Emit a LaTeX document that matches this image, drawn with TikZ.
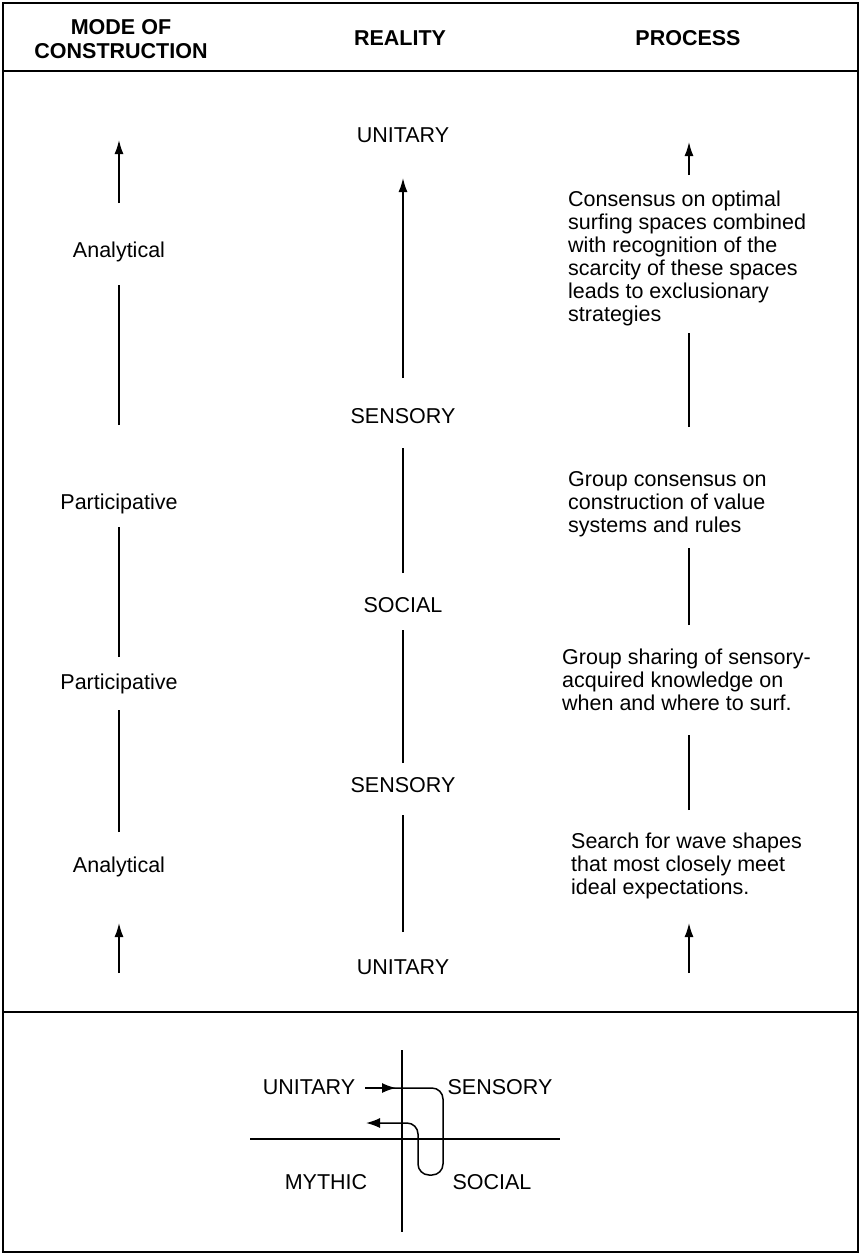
\documentclass[tikz,border=0pt]{standalone}
\usepackage{fontspec}
\setmainfont{Liberation Sans}
\usetikzlibrary{arrows.meta,positioning,calc}

\begin{document}
\begin{tikzpicture}[x=1pt,y=-1pt,
    lbl/.style={font=\fontsize{21.5}{23}\selectfont, inner sep=0pt, text height=15.4pt, text depth=0pt},
    hdr/.style={font=\fontsize{21.5}{24}\selectfont\bfseries, align=center, inner sep=0pt},
    blk/.style={font=\fontsize{21.5}{23}\selectfont, align=left, anchor=west, inner sep=0pt},
    seg/.style={line width=1.5pt},
    up/.style={seg, -{Latex[length=14pt,width=9pt]}}]

    \useasboundingbox (0,0) rectangle (861,1254);
    \draw[line width=1.5pt] (3,3) rectangle (858,1252);
    \draw[line width=1.5pt] (3,71) -- (858,71);
    \draw[line width=2pt] (3,1012) -- (858,1012);

    % headers
    \node[hdr] (hmode) at (121,39) {MODE OF\\CONSTRUCTION};
    \node[hdr] (hreal) at (400,38) {REALITY};
    \node[hdr] (hproc) at (688,38) {PROCESS};

    % mode of construction
    \node[lbl] (anal1) at (119,250) {Analytical};
    \node[lbl] (part1) at (119,502) {Participative};
    \node[lbl] (part2) at (119,682) {Participative};
    \node[lbl] (anal2) at (119,865) {Analytical};

    % reality
    \node[lbl] (unit1) at (403,135) {UNITARY};
    \node[lbl] (sens1) at (403,416) {SENSORY};
    \node[lbl] (soc)   at (403,605) {SOCIAL};
    \node[lbl] (sens2) at (403,785) {SENSORY};
    \node[lbl] (unit2) at (403,967) {UNITARY};

    % process
    \node[blk] (cons) at (568,258) {Consensus on optimal\\surfing spaces combined\\with recognition of the\\scarcity of these spaces\\leads to exclusionary\\strategies};
    \node[blk] (grpc) at (568,504) {Group consensus on\\construction of value\\systems and rules};
    \node[blk] (grps) at (562,680) {Group sharing of sensory-\\acquired knowledge on\\when and where to surf.};
    \node[blk] (srch) at (571,866) {Search for wave shapes\\that most closely meet\\ideal expectations.};

    % segment ends
    \foreach \n/\x/\y in {m0/119/973, m1/119/923, m2/119/832, m3/119/710, m4/119/657, m5/119/527,
                          m6/119/425, m7/119/285, m8/119/203, m9/119/140,
                          r0/403/932, r1/403/815, r2/403/763, r3/403/630, r4/403/573, r5/403/448,
                          r6/403/378, r7/403/178,
                          p0/689/973, p1/689/923, p2/689/810, p3/689/735, p4/689/625, p5/689/548,
                          p6/689/427, p7/689/333, p8/689/175, p9/689/142}
        \coordinate (\n) at (\x,\y);

    \draw[up] (m0) -- (m1);
    \draw[seg] (m2) -- (m3);
    \draw[seg] (m4) -- (m5);
    \draw[seg] (m6) -- (m7);
    \draw[up] (m8) -- (m9);

    \draw[seg] (r0) -- (r1);
    \draw[seg] (r2) -- (r3);
    \draw[seg] (r4) -- (r5);
    \draw[up] (r6) -- (r7);

    \draw[up] (p0) -- (p1);
    \draw[seg] (p2) -- (p3);
    \draw[seg] (p4) -- (p5);
    \draw[seg] (p6) -- (p7);
    \draw[up] (p8) -- (p9);

    % quadrant sketch
    \coordinate (vtop) at (402,1050);
    \coordinate (vbot) at (402,1232);
    \coordinate (hlft) at (250,1139);
    \coordinate (hrgt) at (560,1139);
    \draw[seg] (vtop) -- (vbot);
    \draw[seg] (hlft) -- (hrgt);

    \node[lbl] (qunit) at (309,1087) {UNITARY};
    \node[lbl] (qsens) at (500,1087) {SENSORY};
    \node[lbl] (qmyth) at (326,1182) {MYTHIC};
    \node[lbl] (qsoc)  at (492,1182) {SOCIAL};

    \coordinate (qin)  at (365,1088);
    \coordinate (qax)  at (396,1088);
    \coordinate (qout) at (366,1123);
    \draw[seg, -{Latex[length=14pt,width=10pt]}] (qin) -- (qax);
    \draw[seg, rounded corners=11pt, -{Latex[length=14pt,width=10pt]}]
        (392,1088) -- (443,1088) -- (443,1175) -- (418,1175) -- (418,1123) -- (qout);
\end{tikzpicture}
\end{document}
